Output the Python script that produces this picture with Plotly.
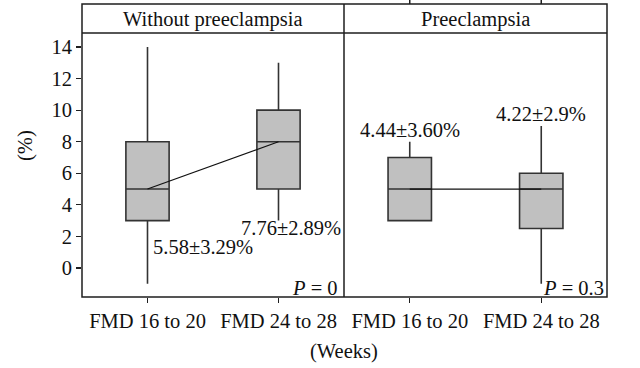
import plotly.graph_objects as go

# ---- data ----
categories = ["FMD 16 to 20", "FMD 24 to 28"]
positions = [1, 2]
panels = ["Without preeclampsia", "Preeclampsia"]

no_q1 = [3, 5]
no_median = [5, 8]
no_q3 = [8, 10]
no_low = [-1, 3]
no_high = [14, 13]

pe_q1 = [3, 2.5]
pe_median = [5, 5]
pe_q3 = [7, 6]
pe_low = [3, -1]
pe_high = [8, 9]

no_labels = ["5.58±3.29%", "7.76±2.89%"]
pe_labels = ["4.44±3.60%", "4.22±2.9%"]
p_values = ["0", "0.3"]

y_ticks = [0, 2, 4, 6, 8, 10, 12, 14]

# ---- layout geometry (pixels) ----
W, H = 640, 368
def px(x):
    return x / W
def py(y):
    return 1 - y / H

left_x0, mid_x, right_x1 = 82, 344, 607
frame_top, strip_bot, plot_bot = 4, 33, 297

FONT = "Liberation Serif, Times New Roman, serif"
TXT = "#111111"
LINE = "#1e1e1e"
BOXLINE = "#333333"
FILL = "#c0c0c0"
FS = 20.5

fig = go.Figure()

fig.add_trace(go.Box(
    x=positions, q1=no_q1, median=no_median, q3=no_q3,
    lowerfence=no_low, upperfence=no_high,
    width=0.33, whiskerwidth=0, fillcolor=FILL,
    line=dict(color=BOXLINE, width=1.6), boxpoints=False,
    xaxis="x", yaxis="y", showlegend=False, hoverinfo="skip"))
fig.add_trace(go.Box(
    x=positions, q1=pe_q1, median=pe_median, q3=pe_q3,
    lowerfence=pe_low, upperfence=pe_high,
    width=0.33, whiskerwidth=0, fillcolor=FILL,
    line=dict(color=BOXLINE, width=1.6), boxpoints=False,
    xaxis="x2", yaxis="y2", showlegend=False, hoverinfo="skip"))

fig.add_trace(go.Scatter(x=positions, y=no_median, mode="lines",
                         line=dict(color="#111111", width=1.2),
                         xaxis="x", yaxis="y", showlegend=False, hoverinfo="skip"))
fig.add_trace(go.Scatter(x=positions, y=pe_median, mode="lines",
                         line=dict(color="#111111", width=1.2),
                         xaxis="x2", yaxis="y2", showlegend=False, hoverinfo="skip"))

yrange = [-1.84, 14.89]
xrange_ = [0.5, 2.5]
ydom = [py(plot_bot), py(strip_bot)]

xaxis_common = dict(range=xrange_, tickvals=positions, ticktext=categories,
                    ticks="outside", ticklen=5, tickwidth=1.3, tickcolor=LINE,
                    showgrid=False, zeroline=False, showline=False, automargin=False,
                    tickfont=dict(family=FONT, size=FS, color=TXT))

fig.update_layout(
    width=W, height=H,
    margin=dict(l=0, r=0, t=0, b=0),
    paper_bgcolor="white", plot_bgcolor="white",
    font=dict(family=FONT, size=FS, color=TXT),
    xaxis=dict(domain=[px(left_x0), px(mid_x)], anchor="y", **xaxis_common),
    xaxis2=dict(domain=[px(mid_x), px(right_x1)], anchor="y2", **xaxis_common),
    yaxis=dict(domain=ydom, range=yrange, anchor="x", tickvals=y_ticks,
               ticks="outside", ticklen=5, tickwidth=1.3, tickcolor=LINE,
               showgrid=False, zeroline=False, showline=False, automargin=False,
               tickfont=dict(family=FONT, size=FS, color=TXT)),
    yaxis2=dict(domain=ydom, range=yrange, anchor="x2", showticklabels=False,
                ticks="", showgrid=False, zeroline=False, showline=False, automargin=False),
)

shapes = []
lw = 1.5
# outer frame
shapes.append(dict(type="rect", xref="paper", yref="paper",
                   x0=px(left_x0), x1=px(right_x1), y0=py(plot_bot), y1=py(frame_top),
                   line=dict(color=LINE, width=lw), fillcolor="rgba(0,0,0,0)"))
# strip bottom line
shapes.append(dict(type="line", xref="paper", yref="paper",
                   x0=px(left_x0), x1=px(right_x1), y0=py(strip_bot), y1=py(strip_bot),
                   line=dict(color=LINE, width=lw)))
# panel divider
shapes.append(dict(type="line", xref="paper", yref="paper",
                   x0=px(mid_x), x1=px(mid_x), y0=py(plot_bot), y1=py(frame_top),
                   line=dict(color=LINE, width=lw)))
# cropped bracket at the very top (right panel)
for xv in positions:
    shapes.append(dict(type="line", xref="x2", yref="paper",
                       x0=xv, x1=xv, y0=py(frame_top), y1=1.0,
                       line=dict(color=LINE, width=lw)))

annotations = []
# strip titles
annotations.append(dict(text=panels[0], xref="paper", yref="paper",
                        x=px((left_x0 + mid_x) / 2), y=py((frame_top + strip_bot) / 2 + 1),
                        showarrow=False, xanchor="center", yanchor="middle",
                        font=dict(family=FONT, size=FS, color=TXT)))
annotations.append(dict(text=panels[1], xref="paper", yref="paper",
                        x=px((mid_x + right_x1) / 2), y=py((frame_top + strip_bot) / 2 + 1),
                        showarrow=False, xanchor="center", yanchor="middle",
                        font=dict(family=FONT, size=FS, color=TXT)))
# value labels
annotations.append(dict(text=no_labels[0], xref="x", yref="y", x=1.03, y=1.3,
                        showarrow=False, xanchor="left", yanchor="middle"))
annotations.append(dict(text=no_labels[1], xref="x", yref="y", x=2.49, y=2.55,
                        showarrow=False, xanchor="right", yanchor="middle"))
annotations.append(dict(text=pe_labels[0], xref="x2", yref="y2", x=1.0, y=8.72,
                        showarrow=False, xanchor="center", yanchor="middle"))
annotations.append(dict(text=pe_labels[1], xref="x2", yref="y2", x=2.0, y=9.74,
                        showarrow=False, xanchor="center", yanchor="middle"))
# P values
annotations.append(dict(text="<i>P</i> = " + p_values[0], xref="x", yref="y", x=2.47, y=-1.25,
                        showarrow=False, xanchor="right", yanchor="middle"))
annotations.append(dict(text="<i>P</i> = " + p_values[1], xref="x2", yref="y2", x=2.49, y=-1.25,
                        showarrow=False, xanchor="right", yanchor="middle"))
# axis titles
annotations.append(dict(text="(Weeks)", xref="paper", yref="paper",
                        x=px(mid_x), y=py(351), showarrow=False,
                        xanchor="center", yanchor="middle"))
annotations.append(dict(text="(%)", xref="paper", yref="paper",
                        x=px(25), y=py(146), showarrow=False, textangle=-90,
                        xanchor="center", yanchor="middle"))

fig.update_layout(shapes=shapes, annotations=annotations)

fig.write_html("out.html",
               config={"displayModeBar": False, "staticPlot": True},
               post_script="document.body.style.margin='0';document.body.style.overflow='hidden';")
